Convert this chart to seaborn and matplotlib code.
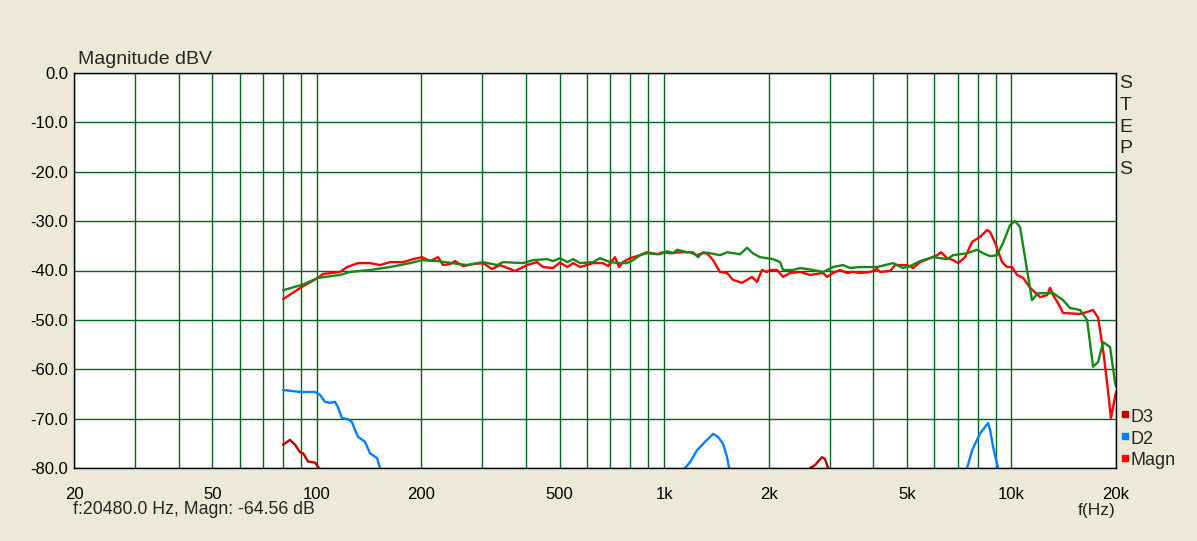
import matplotlib
matplotlib.use("Agg")
import matplotlib.pyplot as plt
from matplotlib.lines import Line2D
from matplotlib.ticker import FixedLocator, NullFormatter
import numpy as np
import pandas as pd
import seaborn as sns

# Magn (red) - frequency in Hz, level in dBV
magn_freq = [80, 90.7, 100.8, 104.2, 116.7, 122.2, 131.5, 142.3, 152.1, 162.5, 177.1, 189.3,
             200.9, 211.8, 223.4, 230.9, 241.9, 250, 263.7, 281.8, 301, 319.6, 337.1, 372.3,
             403, 430.6, 448.1, 478.9, 501.5, 526.7, 547, 572.8, 624.4, 667, 689.5, 722.2,
             741.6, 761.6, 797.8, 852.5, 891, 954.3, 993, 1040, 1112, 1188, 1244, 1286, 1329,
             1383, 1449, 1518, 1579, 1676, 1733, 1791, 1851, 1914, 1978, 2018, 2114, 2200,
             2305, 2463, 2632, 2868, 2945, 3065, 3211, 3363, 3499, 3665, 3917, 4104, 4187,
             4473, 4624, 5007, 5211, 5458, 5832, 6109, 6273, 6528, 6793, 7022, 7354, 7706,
             8124, 8509, 8680, 8972, 9397, 9714, 10040, 10380, 10800, 11320, 12090, 12660,
             12920, 13180, 13620, 14080, 15760, 16510, 17180, 17770, 18360, 18860, 19340, 20000]
magn_db = [-45.8, -43.3, -41.5, -40.7, -40.3, -39.3, -38.5, -38.5, -38.9, -38.3, -38.3, -37.7,
           -37.3, -38.1, -37.3, -38.9, -38.7, -38.1, -39.1, -38.7, -38.5, -39.7, -38.9, -40.1,
           -38.9, -38.3, -39.3, -39.5, -38.4, -39.3, -38.5, -39.3, -38.5, -38.5, -39.1, -37.3,
           -39.3, -38.3, -37.5, -36.9, -36.3, -36.7, -36.3, -36.5, -36.3, -36.3, -36.9, -36.5,
           -36.5, -37.9, -40.3, -40.5, -41.9, -42.5, -41.9, -41.3, -42.3, -39.9, -40.3, -39.9,
           -39.9, -41.3, -40.5, -40.3, -40.9, -40.5, -41.3, -40.5, -39.9, -40.5, -40.3, -40.5,
           -40.3, -39.7, -40.3, -40.1, -38.9, -38.9, -39.5, -38.3, -37.5, -36.9, -36.3, -37.5,
           -37.9, -38.5, -37.3, -34.2, -33.2, -31.8, -32.2, -34.4, -38.3, -39.3, -39.3, -40.9,
           -41.5, -43.5, -45.4, -45.0, -43.5, -45.0, -46.6, -48.6, -48.8, -48.4, -48.0, -49.6,
           -56.1, -62.8, -69.9, -64.6]

# green overlay curve
ref_freq = [80, 90.7, 100.8, 116.7, 124.7, 142.3, 162.5, 185.5, 200.9, 223.4, 245, 270.8,
            301, 330.4, 343.9, 392.5, 419.4, 460.2, 478.9, 501.5, 526.7, 547, 572.8, 624.4,
            654, 698.6, 745, 782, 813.9, 852.5, 891, 973.4, 1020, 1061, 1090, 1164, 1211,
            1252, 1294, 1356, 1449, 1518, 1654, 1733, 1800, 1888, 1978, 2059, 2157, 2200,
            2351, 2463, 2685, 2868, 3065, 3275, 3431, 3665, 4104, 4563, 4876, 5107, 5458,
            5950, 6528, 6793, 7455, 7962, 8286, 8680, 9090, 9460, 9910, 10240, 10590, 11090,
            11460, 11930, 13180, 14080, 14750, 15760, 16510, 17180, 17770, 18360, 19230,
            19880, 20000]
ref_db = [-44.0, -42.9, -41.5, -40.9, -40.3, -39.9, -39.3, -38.5, -37.9, -38.1, -38.5, -38.9,
          -38.3, -38.9, -38.3, -38.5, -37.9, -37.7, -38.1, -37.5, -38.3, -37.7, -38.5, -38.3,
          -37.5, -38.3, -38.5, -38.5, -37.9, -36.9, -36.5, -36.7, -36.1, -36.5, -35.8, -36.3,
          -36.3, -37.3, -36.3, -36.5, -36.9, -36.3, -36.7, -35.4, -36.5, -37.3, -37.5, -37.7,
          -38.3, -39.9, -39.9, -39.5, -39.9, -40.3, -39.3, -38.9, -39.5, -39.3, -39.3, -38.5,
          -39.5, -39.1, -38.1, -37.3, -37.7, -36.9, -36.5, -35.8, -36.5, -37.1, -36.9, -34.4,
          -30.8, -30.0, -31.2, -39.9, -46.0, -44.6, -44.6, -46.0, -47.6, -48.0, -50.0, -59.5,
          -58.5, -54.5, -55.5, -62.8, -63.4]

# D2 (blue), pieces above the -80 dB floor
d2_low_freq = [80, 89.5, 98.8, 102.2, 105.6, 109.2, 112.8, 115.1, 118.2, 123, 126.3, 128.9,
               131.5, 137.7, 142.3, 149.1, 152.1, 156]
d2_low_db = [-64.2, -64.6, -64.6, -65.2, -66.6, -66.8, -66.6, -67.7, -69.9, -70.1, -70.7,
             -72.3, -73.7, -74.7, -77.0, -78.0, -80.0, -85.0]
d2_mid_freq = [1135, 1149, 1188, 1244, 1312, 1383, 1430, 1478, 1518, 1538, 1560]
d2_mid_db = [-85.0, -80.0, -78.8, -76.4, -74.7, -73.1, -73.7, -75.1, -77.8, -80.0, -85.0]
d2_high_freq = [7300, 7455, 7706, 8124, 8566, 8680, 8854, 9150, 9300]
d2_high_db = [-85.0, -80.0, -76.4, -73.0, -70.9, -72.3, -75.7, -80.0, -85.0]

# D3 (dark red)
d3_low_freq = [80, 83.7, 86.6, 89.5, 91.3, 94.4, 98.8, 101.5, 104]
d3_low_db = [-75.3, -74.3, -75.3, -76.8, -77.0, -78.7, -78.9, -80.0, -85.0]
d3_mid_freq = [2600, 2632, 2720, 2849, 2906, 2965, 3000]
d3_mid_db = [-85.0, -80.0, -79.4, -77.8, -78.2, -80.0, -85.0]

BG = "#ECE9D8"
GRID = "#00641E"
RED = "#FF0000"
DARKRED = "#C00000"
BLUE = "#0080FF"
GREEN = "#138A13"

sns.set_style("white")
plt.rcParams["font.family"] = ["Liberation Sans", "DejaVu Sans"]

fig = plt.figure(figsize=(11.97, 5.41), dpi=100, facecolor=BG)
W, H = 1197, 541
ax = fig.add_axes([74 / W, 1 - 468 / H, (1116 - 74) / W, (468 - 73) / H])
ax.set_facecolor("white")


def draw(freq, db, color):
    df = pd.DataFrame({"freq": freq, "db": db})
    sns.lineplot(data=df, x="freq", y="db", color=color, linewidth=1.7,
                 estimator=None, sort=False, ax=ax)


draw(d3_low_freq, d3_low_db, DARKRED)
draw(d3_mid_freq, d3_mid_db, DARKRED)
draw(d2_low_freq, d2_low_db, BLUE)
draw(d2_mid_freq, d2_mid_db, BLUE)
draw(d2_high_freq, d2_high_db, BLUE)
draw(magn_freq, magn_db, RED)
draw(ref_freq, ref_db, GREEN)

ax.set_xscale("log")
ax.set_xlim(20, 20000)
ax.set_ylim(-80, 0)

major = [20, 50, 100, 200, 500, 1000, 2000, 5000, 10000, 20000]
major_lbl = ["20", "50", "100", "200", "500", "1k", "2k", "5k", "10k", "20k"]
minor = [m * d for d in (10, 100, 1000, 10000) for m in range(1, 10) if 20 <= m * d <= 20000]
ax.xaxis.set_major_locator(FixedLocator(major))
ax.set_xticklabels(major_lbl)
ax.xaxis.set_minor_locator(FixedLocator(minor))
ax.xaxis.set_minor_formatter(NullFormatter())
yt = np.arange(-80, 1, 10)
ax.set_yticks(yt)
ax.set_yticklabels([f"{v:.1f}" for v in yt])

ax.grid(True, which="both", color=GRID, linewidth=1.0)
ax.tick_params(axis="both", which="both", length=0, labelsize=12, colors="black")
ax.tick_params(axis="x", pad=14)
ax.tick_params(axis="y", pad=4)
for s in ax.spines.values():
    s.set_color("black")
    s.set_linewidth(1.0)
ax.set_xlabel("")
ax.set_ylabel("")

fig.text(78 / W, 1 - 60 / H, "Magnitude dBV", fontsize=14, va="center", ha="left")
fig.text(73 / W, 1 - 510 / H, "f:20480.0 Hz, Magn: -64.56 dB", fontsize=12.8,
         va="center", ha="left")
fig.text(1115 / W, 1 - 510 / H, "f(Hz)", fontsize=12.5, va="center", ha="right")
for i, ch in enumerate("STEPS"):
    fig.text(1126 / W, 1 - (84 + i * 21.5) / H, ch, fontsize=14, va="center", ha="center")

for i, (lbl, col) in enumerate([("D3", DARKRED), ("D2", BLUE), ("Magn", RED)]):
    yy = 1 - (414 + i * 22) / H
    fig.add_artist(Line2D([1124.5 / W], [yy], marker="s", markersize=4, color=col,
                          linestyle="none", transform=fig.transFigure))
    fig.text(1130 / W, yy - 3 / H, lbl, fontsize=13, va="center", ha="left")

fig.savefig("out.png", dpi=100, facecolor=BG)
